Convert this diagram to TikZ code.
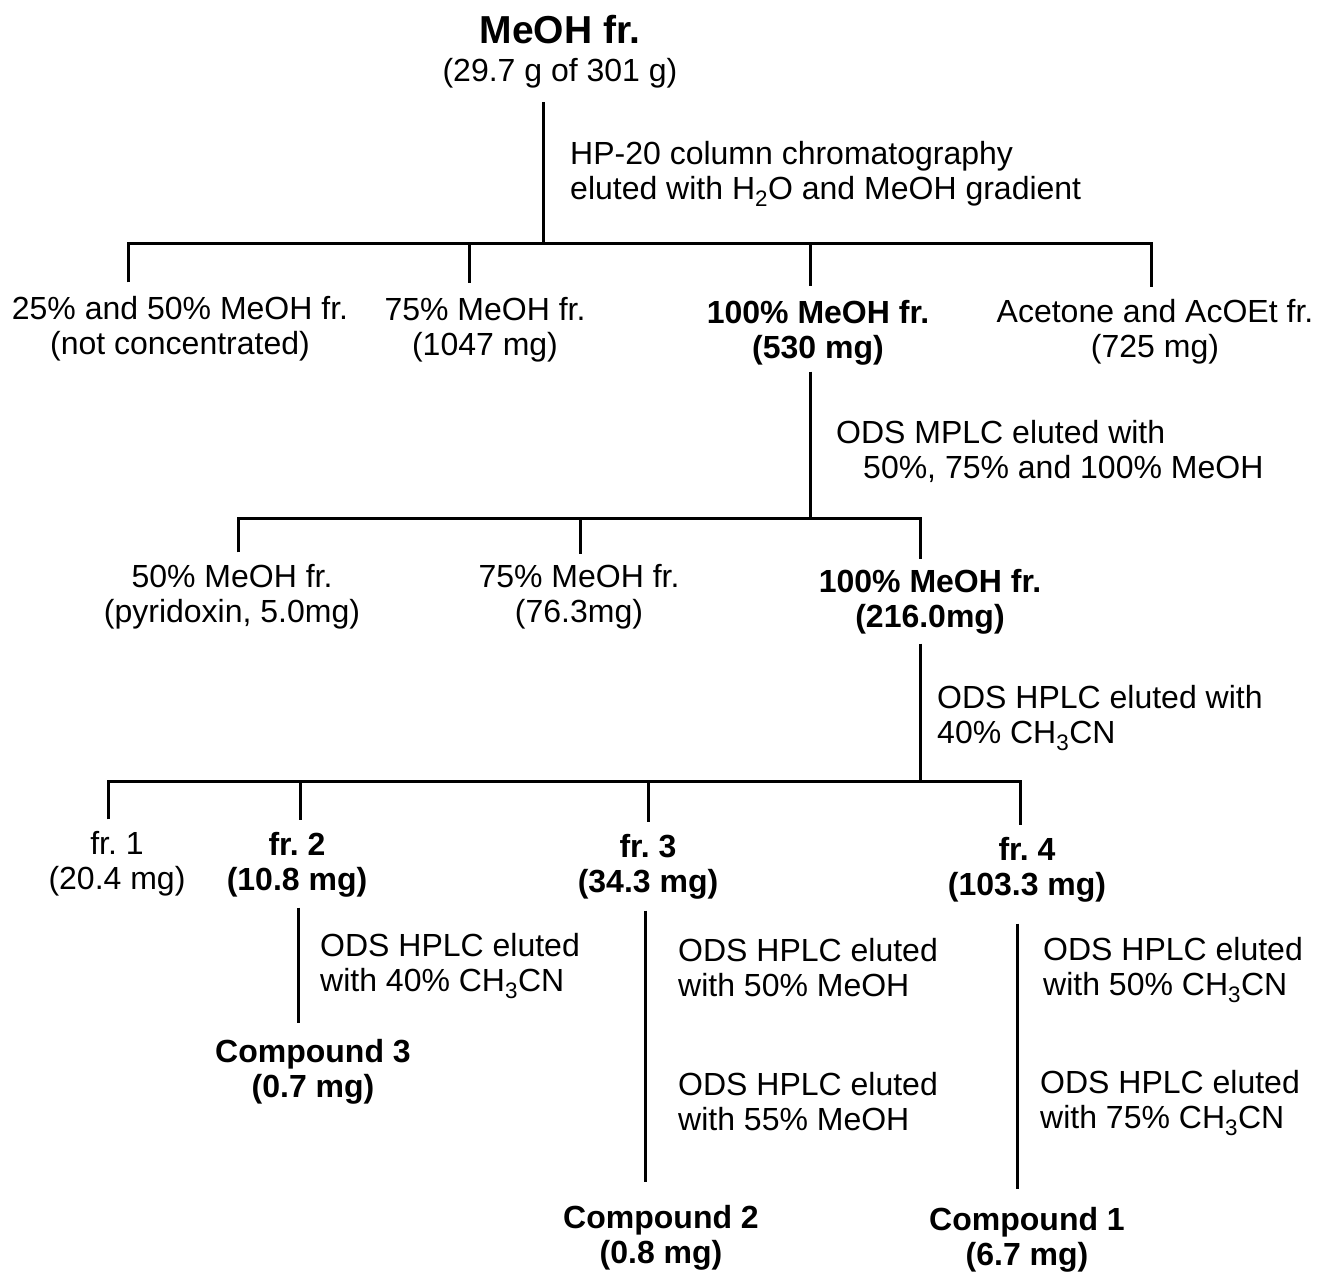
\documentclass[tikz,border=0pt]{standalone}
\usepackage{fontspec}
\setmainfont{Liberation Sans}
\frenchspacing
\begin{document}
\begin{tikzpicture}[x=1pt,y=1pt,
  ln/.style={line width=3pt},
  lbl/.style={align=center, font=\fontsize{32}{35}\selectfont, inner sep=4pt},
  blbl/.style={align=center, font=\fontsize{32}{35}\selectfont\bfseries, inner sep=4pt},
  note/.style={align=left, anchor=west, font=\fontsize{32}{35}\selectfont, inner sep=4pt}]
\useasboundingbox (0,0) rectangle (1324,-1274);
% ---- top
\node[font=\fontsize{39}{42}\selectfont\bfseries, inner sep=4pt] (top1) at (560,-30) {MeOH fr.};
\node[lbl] (top2) at (560,-73) {(29.7 g of 301 g)};
\node[note] (n1) at (566,-174) {HP-20 column chromatography\\eluted with H\textsubscript{2}O and MeOH gradient};
% level 1
\coordinate (j1) at (543,-243);
\coordinate (j11) at (128,-243);
\coordinate (j12) at (469,-243);
\coordinate (j13) at (810,-243);
\coordinate (j14) at (1151,-243);
\node[lbl] (l11) at (180,-329) {25\% and 50\% MeOH fr.\\(not concentrated)};
\node[lbl] (l12) at (485,-330) {75\% MeOH fr.\\(1047 mg)};
\node[blbl] (l13) at (818,-333) {100\% MeOH fr.\\(530 mg)};
\node[lbl] (l14) at (1155,-332) {Acetone and AcOEt fr.\\(725 mg)};
\draw[ln] ([yshift=-10pt]j1 |- top2.south) -- (j1);
\draw[ln] ([yshift=10pt]j11 |- l11.north) -- (j11) -- (j14) -- ([yshift=8pt]j14 |- l14.north);
\draw[ln] (j12) -- ([yshift=10pt]j12 |- l12.north);
\draw[ln] (j13) -- ([yshift=10pt]j13 |- l13.north);
% level 2
\coordinate (j2) at (810,-518);
\coordinate (j21) at (238,-518);
\coordinate (j22) at (580,-518);
\coordinate (j23) at (920,-518);
\node[note] (n2) at (832,-451) {ODS MPLC eluted with\\\hspace*{27pt}50\%, 75\% and 100\% MeOH};
\node[lbl] (l21) at (232,-597) {50\% MeOH fr.\\(pyridoxin, 5.0mg)};
\node[lbl] (l22) at (579,-597) {75\% MeOH fr.\\(76.3mg)};
\node[blbl] (l23) at (930,-602) {100\% MeOH fr.\\(216.0mg)};
\draw[ln] ([yshift=-2pt]j2 |- l13.south) -- (j2);
\draw[ln] ([yshift=8pt]j21 |- l21.north) -- (j21) -- (j23) -- ([yshift=6pt]j23 |- l23.north);
\draw[ln] (j22) -- ([yshift=6pt]j22 |- l22.north);
% level 3
\coordinate (j3) at (920,-781);
\coordinate (j31) at (108,-781);
\coordinate (j32) at (300,-781);
\coordinate (j33) at (648,-781);
\coordinate (j34) at (1020,-781);
\node[note] (n3) at (933,-718) {ODS HPLC eluted with\\40\% CH\textsubscript{3}CN};
\node[lbl] (l31) at (117,-864) {fr. 1\\(20.4 mg)};
\node[blbl] (l32) at (297,-865) {fr. 2\\(10.8 mg)};
\node[blbl] (l33) at (648,-867) {fr. 3\\(34.3 mg)};
\node[blbl] (l34) at (1027,-870) {fr. 4\\(103.3 mg)};
\draw[ln] ([yshift=-5pt]j3 |- l23.south) -- (j3);
\draw[ln] ([yshift=8pt]j31 |- l31.north) -- (j31) -- (j34) -- ([yshift=8pt]j34 |- l34.north);
\draw[ln] (j32) -- ([yshift=8pt]j32 |- l32.north);
\draw[ln] (j33) -- ([yshift=8pt]j33 |- l33.north);
% level 4
\coordinate (x2) at (298,0);
\coordinate (x3) at (645,0);
\coordinate (x4) at (1017,0);
\node[note] (n41) at (316,-966) {ODS HPLC eluted\\with 40\% CH\textsubscript{3}CN};
\node[blbl] (c3) at (313,-1072) {Compound 3\\(0.7 mg)};
\node[note] (n42) at (674,-968) {ODS HPLC eluted\\with 50\% MeOH};
\node[note] (n43) at (674,-1102) {ODS HPLC eluted\\with 55\% MeOH};
\node[blbl] (c2) at (661,-1238) {Compound 2\\(0.8 mg)};
\node[note] (n44) at (1039,-970) {ODS HPLC eluted\\with 50\% CH\textsubscript{3}CN};
\node[note] (n45) at (1036,-1103) {ODS HPLC eluted\\with 75\% CH\textsubscript{3}CN};
\node[blbl] (c1) at (1027,-1240) {Compound 1\\(6.7 mg)};
\draw[ln] ([yshift=-6pt]x2 |- l32.south) -- ([yshift=12pt]x2 |- c3.north);
\draw[ln] ([yshift=-7pt]x3 |- l33.south) -- ([yshift=19pt]x3 |- c2.north);
\draw[ln] ([yshift=-17pt]x4 |- l34.south) -- ([yshift=14pt]x4 |- c1.north);
\end{tikzpicture}
\end{document}
